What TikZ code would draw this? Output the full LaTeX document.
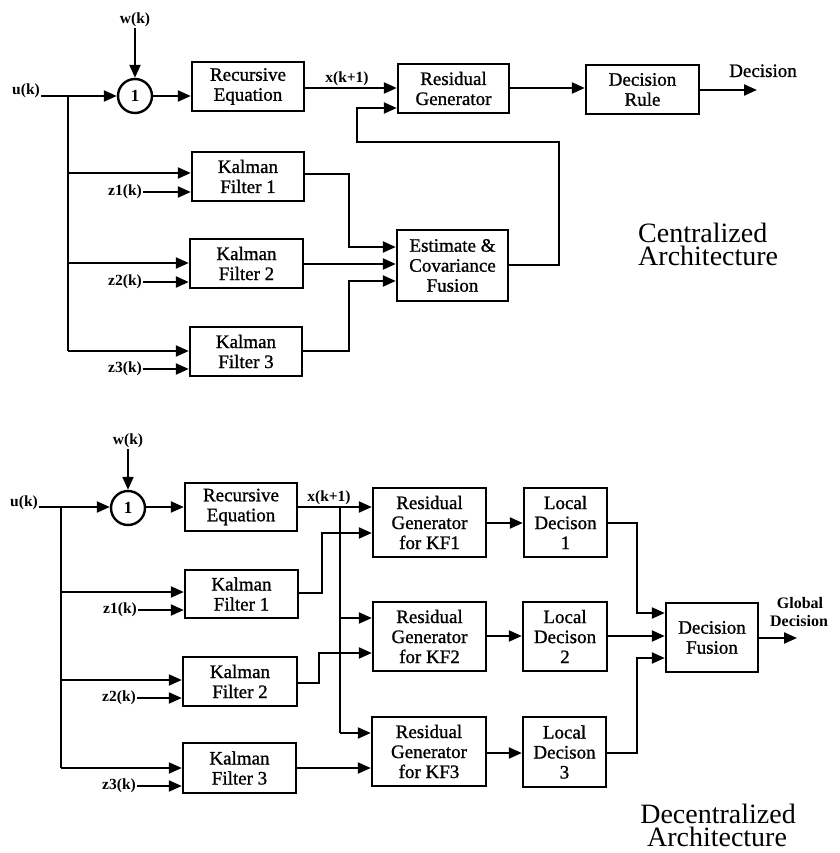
\documentclass[tikz,border=0pt]{standalone}
\usepackage{fontspec}
\setmainfont{Liberation Serif}
\newfontfamily\boxfam{Liberation Serif}[FakeBold=1]
\usetikzlibrary{arrows.meta}
\begin{document}
\begin{tikzpicture}[x=1pt,y=-1pt,
 blk/.style={draw,line width=2.4pt,align=center,inner sep=0pt,font=\boxfam\fontsize{19}{20}\selectfont},
 wh/.style 2 args={minimum width=#1pt,minimum height=#2pt},
 lbl/.style={font=\fontsize{15.5}{17}\selectfont\bfseries,inner sep=1pt},
 txt/.style={font=\boxfam\fontsize{19}{20}\selectfont,inner sep=0pt},
 big/.style={font=\fontsize{28}{22}\selectfont,inner sep=0pt},
 con/.style={line width=2.2pt},
 arr/.style={con,-{Triangle[length=13pt,width=11pt]}},
 sumc/.style={draw,circle,line width=2.4pt,minimum size=34pt,inner sep=0pt,font=\fontsize{17}{17}\selectfont\bfseries}]
\useasboundingbox (0,0) rectangle (839,853);

% ================= Centralized =================
\node[sumc] (s1) at (135,96) {1};
\node[lbl] (w1) at (135,20) {w(k)};
\node[lbl,anchor=east] (u1) at (41,91) {u(k)};
\node[blk,wh={112}{49}] (re1) at (248,86.5) {Recursive\\Equation};
\node[blk,wh={111}{49}] (rg1) at (453.5,88.5) {Residual\\Generator};
\node[blk,wh={113}{49}] (dr1) at (642.5,89.5) {Decision\\Rule};
\node[txt,anchor=base] (dec0) at (763,77) {Decision};
\node[lbl] (x1) at (347,79) {x(k+1)};
\node[blk,wh={112}{49}] (kf1) at (248,176.5) {Kalman\\Filter 1};
\node[blk,wh={113}{49}] (kf2) at (246.5,263.5) {Kalman\\Filter 2};
\node[blk,wh={112}{49}] (kf3) at (246,351.5) {Kalman\\Filter 3};
\node[blk,wh={111}{71}] (ef) at (452.5,265.5) {Estimate \&\\Covariance\\Fusion};
\node[lbl] (z1) at (125,192) {z1(k)};
\node[lbl] (z2) at (125,282) {z2(k)};
\node[lbl] (z3) at (125,369) {z3(k)};
\coordinate (j1) at (68,96);
\coordinate (do1) at (757,90);
\node[big,anchor=base west] (ca1) at (638,242) {Centralized};
\node[big,anchor=base west] (ca2) at (638,265) {Architecture};

\draw[arr] (w1.south) -- (s1.north);
\draw[arr] (u1.east |- s1.west) -- (s1.west);
\draw[arr] (s1.east) -- (s1.east -| re1.west);
\draw[arr] (re1.east |- 0,88) -- (rg1.west |- 0,88);
\draw[arr] (rg1.east |- 0,88) -- (dr1.west |- 0,88);
\draw[arr] (dr1.east |- do1) -- (do1);
\draw[con] (j1) -- (68,351);
\draw[arr] (68,173) -- (kf1.west |- 0,173);
\draw[arr] (68,263) -- (kf2.west |- 0,263);
\draw[arr] (68,351) -- (kf3.west |- 0,351);
\draw[arr] (z1.east) -- (z1.east -| kf1.west);
\draw[arr] (z2.east) -- (z2.east -| kf2.west);
\draw[arr] (z3.east) -- (z3.east -| kf3.west);
\draw[arr] (kf1.east |- 0,174) -- (349,174) -- (349,247) -- (ef.west |- 0,247);
\draw[arr] (kf2.east |- 0,264) -- (ef.west |- 0,264);
\draw[arr] (kf3.east |- 0,351) -- (349,351) -- (349,281) -- (ef.west |- 0,281);
\draw[arr] (ef.east |- 0,265) -- (559,265) -- (559,142) -- (357,142) -- (357,108) -- (rg1.west |- 0,108);

% ================= Decentralized =================
\node[sumc] (s2) at (128,508) {1};
\node[lbl] (w2) at (128,441) {w(k)};
\node[lbl,anchor=east] (u2) at (39,503) {u(k)};
\node[blk,wh={112}{48}] (re2) at (241,507) {Recursive\\Equation};
\node[lbl] (x2) at (329,498) {x(k+1)};
\node[blk,wh={113}{69}] (rga) at (429.5,522.5) {Residual\\Generator\\for KF1};
\node[blk,wh={113}{69}] (rgb) at (429.5,636.5) {Residual\\Generator\\for KF2};
\node[blk,wh={114}{69}] (rgc) at (429,751.5) {Residual\\Generator\\for KF3};
\node[blk,wh={83}{69}] (ld1) at (565.5,522.5) {Local\\Decison\\1};
\node[blk,wh={84}{69}] (ld2) at (565,636.5) {Local\\Decison\\2};
\node[blk,wh={83}{70}] (ld3) at (564.5,752) {Local\\Decison\\3};
\node[blk,wh={113}{48}] (kf1b) at (241.5,594) {Kalman\\Filter 1};
\node[blk,wh={114}{49}] (kf2b) at (240,681.5) {Kalman\\Filter 2};
\node[blk,wh={113}{50}] (kf3b) at (239.5,768) {Kalman\\Filter 3};
\node[blk,wh={92}{69}] (df) at (712,637.5) {Decision\\Fusion};
\node[lbl] (z1b) at (120,610) {z1(k)};
\node[lbl] (z2b) at (119,698) {z2(k)};
\node[lbl] (z3b) at (119,786) {z3(k)};
\coordinate (j2) at (61,507);
\coordinate (j3) at (340,507);
\coordinate (do2) at (797,638);
\node[font=\fontsize{16}{17}\selectfont\bfseries,inner sep=0pt,anchor=base] (gd1) at (800,608) {Global};
\node[font=\fontsize{16}{17}\selectfont\bfseries,inner sep=0pt,anchor=base] (gd2) at (799,626) {Decision};
\node[big,anchor=base] (da1) at (718,823) {Decentralized};
\node[big,anchor=base] (da2) at (717,846) {Architecture};

\draw[arr] (w2.south) -- (s2.north);
\draw[arr] (u2.east |- 0,507) -- (s2.west |- 0,507);
\draw[arr] (s2.east |- 0,507) -- (re2.west |- 0,507);
\draw[arr] (re2.east |- 0,507) -- (rga.west |- 0,507);
\draw[con] (j2) -- (61,768);
\draw[arr] (61,592) -- (kf1b.west |- 0,592);
\draw[arr] (61,680) -- (kf2b.west |- 0,680);
\draw[arr] (61,768) -- (kf3b.west |- 0,768);
\draw[arr] (z1b.east) -- (z1b.east -| kf1b.west);
\draw[arr] (z2b.east) -- (z2b.east -| kf2b.west);
\draw[arr] (z3b.east) -- (z3b.east -| kf3b.west);
\draw[con] (j3) -- (340,733);
\draw[arr] (340,618) -- (rgb.west |- 0,618);
\draw[arr] (340,733) -- (rgc.west |- 0,733);
\draw[arr] (kf1b.east |- 0,593) -- (322,593) -- (322,533) -- (rga.west |- 0,533);
\draw[arr] (kf2b.east |- 0,683) -- (319,683) -- (319,653) -- (rgb.west |- 0,653);
\draw[arr] (kf3b.east |- 0,768) -- (rgc.west |- 0,768);
\draw[arr] (rga.east |- 0,523) -- (ld1.west |- 0,523);
\draw[arr] (rgb.east |- 0,636) -- (ld2.west |- 0,636);
\draw[arr] (rgc.east |- 0,753) -- (ld3.west |- 0,753);
\draw[arr] (ld1.east |- 0,523) -- (637,523) -- (637,613) -- (df.west |- 0,613);
\draw[arr] (ld2.east |- 0,636) -- (df.west |- 0,636);
\draw[arr] (ld3.east |- 0,753) -- (637,753) -- (637,658) -- (df.west |- 0,658);
\draw[arr] (df.east |- do2) -- (do2);
\end{tikzpicture}
\end{document}
